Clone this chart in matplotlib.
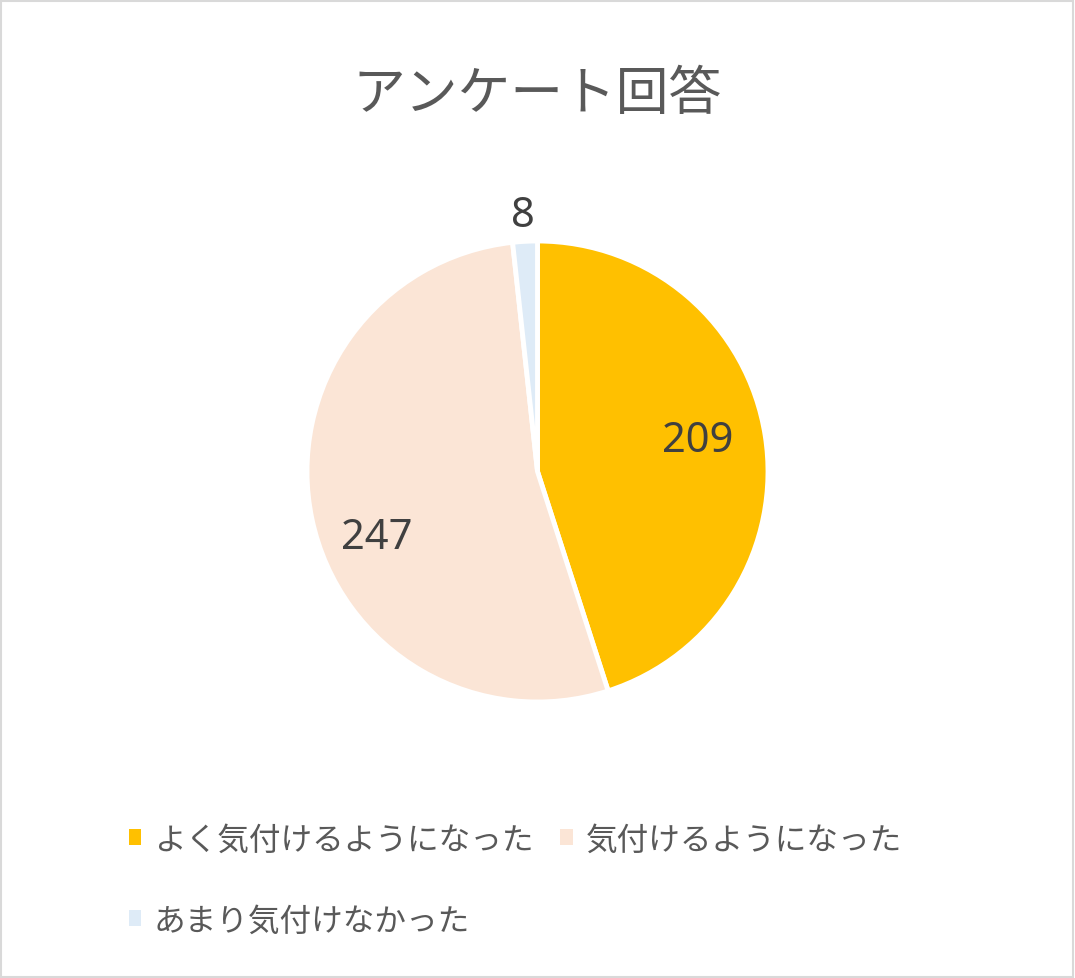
""" Pie chart of survey answers (アンケート回答). """
import matplotlib.pyplot as plt
import numpy as np
from matplotlib.patches import Rectangle

plt.rcParams['font.family'] = ['Noto Sans CJK JP', 'DejaVu Sans']

# Data.
answers = ['よく気付けるようになった', '気付けるようになった', 'あまり気付けなかった']
counts = [209, 247, 8]
colors = ['#FFC000', '#FBE5D6', '#DEEBF7']

# Label placement (angle in degrees, distance in radii).
label_ang = [11.3, 202.0, 93.3]
label_dist = [0.707, 0.753, 1.116]

W, H = 1075, 979


def main():
    fig = plt.figure(figsize=(W / 100, H / 100), dpi=100)

    # Light grey frame around the whole chart.
    fig.patches.append(Rectangle((1 / W, 1 / H), 1 - 3 / W, 1 - 3 / H,
                                 transform=fig.transFigure, fill=False,
                                 edgecolor='#D9D9D9', linewidth=1.5))

    cx, cy, r = 537.5, 472.5, 230.5
    ax = fig.add_axes([(cx - r) / W, (H - cy - r) / H, 2 * r / W, 2 * r / H])

    wedges, _ = ax.pie(counts, colors=colors, startangle=90, counterclock=False,
                       wedgeprops=dict(edgecolor='white', linewidth=3.5))
    ax.set_xlim(-1, 1)
    ax.set_ylim(-1, 1)
    ax.axis('off')

    # Data labels.
    for n, a, d in zip(counts, label_ang, label_dist):
        ang = np.deg2rad(a)
        ax.text(d * np.cos(ang), d * np.sin(ang), str(n), ha='center', va='center',
                fontsize=30, color='#404040', family=['Noto Sans', 'DejaVu Sans'])

    fig.text(0.5, 1 - 94 / H, 'アンケート回答', ha='center', va='center',
             fontsize=38, color='#595959')

    # Legend: row 1 holds the first two entries, row 2 the third.
    order = [0, 2, 1]
    leg = fig.legend([wedges[i] for i in order], [answers[i] for i in order],
                     ncol=2, loc='upper left', bbox_to_anchor=(116 / W, 1 - 812 / H),
                     frameon=False, fontsize=22.8, labelcolor='#595959',
                     handlelength=0.4, handleheight=0.4, handletextpad=0.4,
                     columnspacing=0.85, labelspacing=1.55, borderaxespad=0)
    for h in leg.legend_handles:
        h.set_edgecolor('none')

    fig.savefig('out.png', dpi=100)


if __name__ == '__main__':
    main()
